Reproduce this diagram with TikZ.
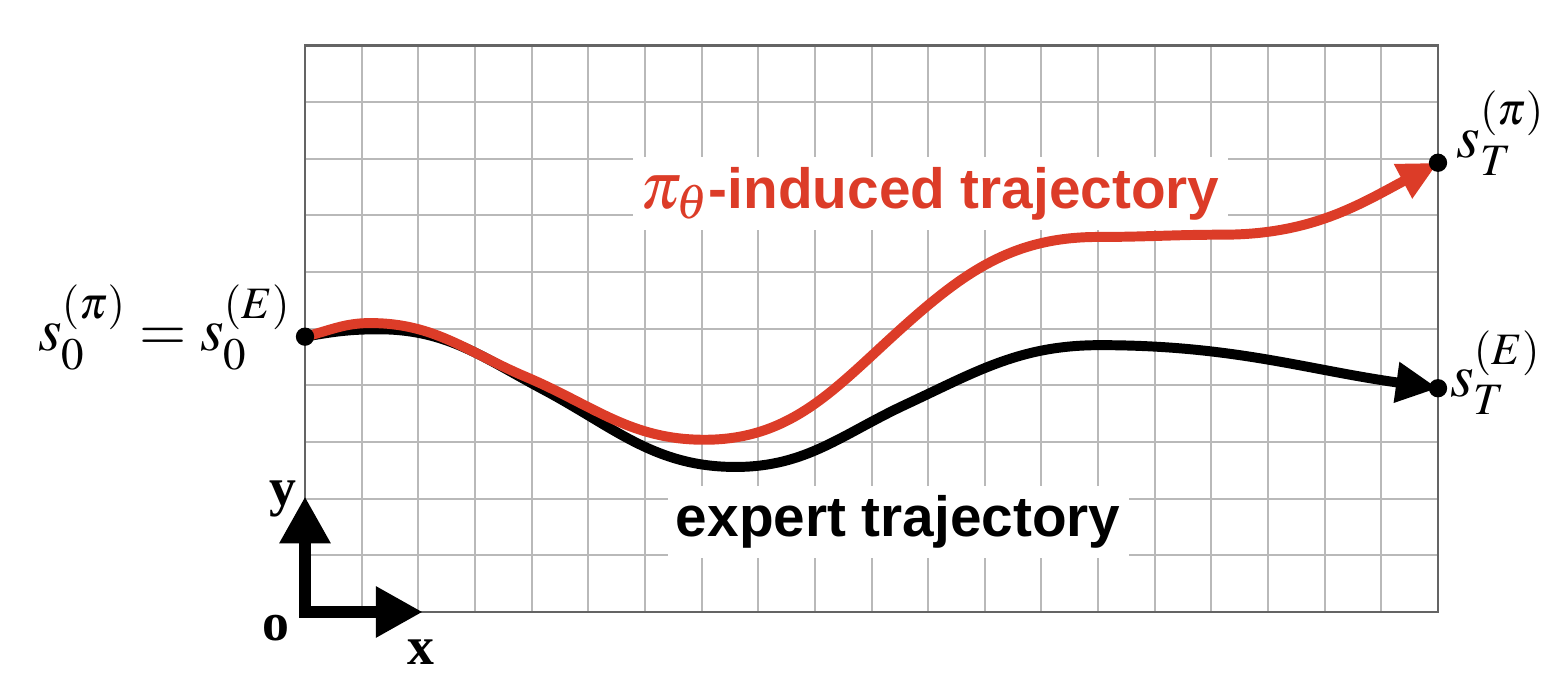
\documentclass[tikz,border=0pt]{standalone}
\usepackage{mathptmx}
\usepackage[no-math]{fontspec}
\newfontfamily\lsans{Liberation Sans}
\newfontfamily\lserif{Liberation Serif}
\usetikzlibrary{arrows.meta}
\definecolor{trajred}{RGB}{220,60,40}
\definecolor{gridgray}{RGB}{185,185,185}
\definecolor{bordergray}{RGB}{100,100,100}
\tikzset{
  gridline/.style={draw=gridgray, line width=1pt},
  frameline/.style={draw=bordergray, line width=1.1pt},
  dotnode/.style={circle, fill=black, inner sep=0pt, minimum size=9.2pt},
  axisline/.style={line width=6pt, line join=miter, line cap=butt,
    {Triangle[length=0.83cm,width=0.85cm]}-{Triangle[length=0.83cm,width=0.85cm]}},
  trajline/.style={line width=5pt, line cap=round},
  mathlabel/.style={inner sep=0pt, font=\fontsize{30.5}{36}\selectfont},
  axislabel/.style={inner sep=0pt, font=\lserif\bfseries\fontsize{27}{32}\selectfont},
  trajlabel/.style={fill=white, inner xsep=4pt, inner ysep=5pt, font=\lsans\bfseries\fontsize{28.5}{34}\selectfont},
}
\begin{document}
\begin{tikzpicture}[x=1cm,y=1cm]
\useasboundingbox (-5.384,-1.236) rectangle (21.977,10.803);
% grid
\draw[gridline] (0,0) grid (20,10);
\draw[frameline] (0,0) rectangle (20,10);
% labels with white boxes
\node[trajlabel, text=trajred, anchor=base west] (redlab) at (5.78,7.13) {{\fontsize{33}{38}\selectfont$\pi_\theta$}-induced trajectory};
\node[trajlabel, text=black, anchor=base west] (blacklab) at (6.40,1.33) {expert trajectory};
% end points
\coordinate (s0) at (0,4.86);
\coordinate (sTpi) at (20,7.93);
\coordinate (sTE) at (20,3.95);
% expert trajectory
\draw[trajline, black, -{Triangle[length=0.74cm,width=0.68cm]}]
  (s0) to[out=10,in=180] (1.3,4.99) to[out=0,in=152] (4.2,3.93)
  to[out=-28,in=180] (7.6,2.56) to[out=0,in=205] (10.6,3.66)
  to[out=25,in=180] (14.03,4.71) to[out=0,in=172] (sTE);
% policy trajectory
\draw[trajline, trajred, -{Triangle[length=0.7cm,width=0.64cm]}]
  (s0) to[out=14,in=180] (1.15,5.1) to[out=0,in=157] (3.9,4.15)
  to[out=-23,in=180] (7.05,3.04) to[out=0,in=222] (10.5,4.98)
  to[out=42,in=180] (14.0,6.62) to[out=0,in=180] (16.2,6.66)
  to[out=0,in=208] (sTpi);
\node[dotnode] (d0) at (s0) {};
\node[dotnode] (dpi) at (sTpi) {};
\node[dotnode] (dE) at (sTE) {};
% state labels
\node[mathlabel, anchor=base east] (l0) at (-0.25,4.61) {$s_0^{(\pi)} = s_0^{(E)}$};
\node[mathlabel, anchor=base west] (lpi) at (20.32,8.03) {$s_T^{(\pi)}$};
\node[mathlabel, anchor=base west] (lE) at (20.21,3.81) {$s_T^{(E)}$};
% axes
\coordinate (O) at (0,0);
\coordinate (Ytip) at (0,2.04);
\coordinate (Xtip) at (2.08,0);
\draw[axisline] (Ytip) -- (O) -- (Xtip);
\node[axislabel] (ylab) at (-0.39,2.0) {y};
\node[axislabel] (olab) at (-0.51,-0.28) {o};
\node[axislabel] (xlab) at (2.05,-0.71) {x};
\end{tikzpicture}
\end{document}
